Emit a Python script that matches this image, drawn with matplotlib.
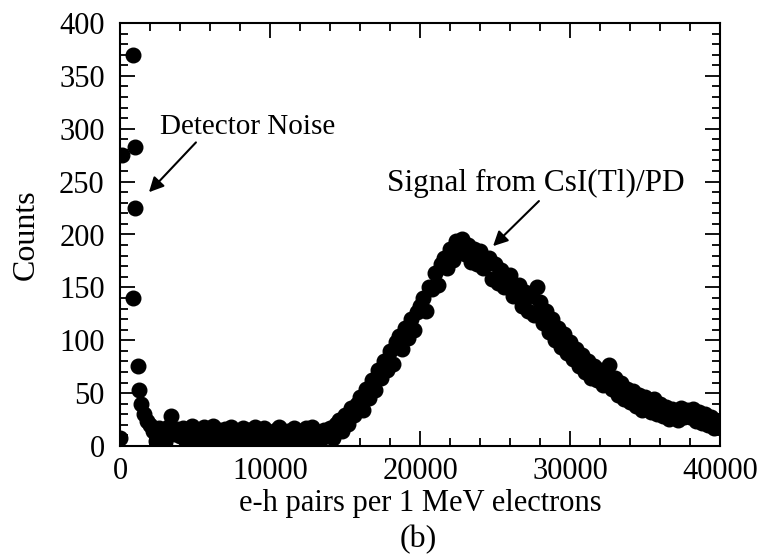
#spectrum e-h pairs, CsI(Tl)/PD
import numpy as np
import matplotlib.pyplot as plt

plt.rcParams['font.family'] = ['Liberation Serif', 'DejaVu Serif']

# detector noise points (low end)
x_noise = [0, 130, 870, 1000, 1000, 870, 1200, 1270]
y_noise = [8, 275, 370, 283, 225, 140, 76, 53]

# signal points, every 200 e-h pairs from 1400 up to 40000
x_sig = list(range(1400, 40001, 200))
y_sig = [40, 30, 24,
         20, 14, 5, 17, 8, 4, 18, 28, 11, 16,
         9, 17, 6, 14, 19, 7, 15, 11, 18, 5,
         14, 19, 8, 15, 6, 16, 12, 18, 7, 14,
         11, 17, 6, 15, 10, 18, 5, 14, 17, 8,
         13, 6, 15, 18, 9, 4, 14, 10, 17, 7,
         3, 12, 17, 8, 18, 6, 13, 7, 15, 11,
         17, 8, 21, 25, 14, 29, 21, 36, 29, 40,
         46, 34, 54, 45, 62, 53, 72, 64, 80, 72,
         90, 78, 98, 104, 92, 112, 102, 120, 110, 127,
         132, 140, 128, 150, 148, 164, 152, 172, 178, 168,
         186, 176, 194, 185, 196, 182, 190, 174, 186, 172,
         184, 168, 172, 178, 158, 172, 154, 166, 150, 158,
         162, 142, 146, 152, 132, 146, 128, 142, 124, 150,
         136, 116, 128, 108, 120, 100, 112, 94, 106, 88,
         98, 82, 92, 76, 86, 70, 80, 64, 76, 62,
         72, 58, 68, 77, 54, 64, 48, 60, 44, 54,
         42, 52, 38, 48, 34, 46, 36, 32, 44, 30,
         40, 28, 37, 26, 35, 30, 25, 36, 27, 34,
         27, 35, 24, 32, 22, 30, 20, 27, 17, 24,
         18]

x_all = np.array(x_noise + x_sig)
y_all = np.array(y_noise + y_sig)

fig = plt.figure(figsize=(7.66, 5.56), dpi=100)
ax = fig.add_axes([120/766, 110/556, 600/766, 423/556])
ax.plot(x_all, y_all, 'o', color='k', ms=10.5, mec='k')

ax.set_xlim(0, 40000)
ax.set_ylim(0, 400)
ax.set_xticks([0, 10000, 20000, 30000, 40000])
ax.set_xticks(np.arange(0, 40001, 2000), minor=True)
ax.set_yticks(np.arange(0, 401, 50))
ax.set_yticks(np.arange(0, 401, 10), minor=True)
ax.tick_params(which='both', direction='in', top=True, right=True, width=1.3, labelsize=22)
ax.tick_params(which='major', length=11)
ax.tick_params(which='minor', length=6)
ax.tick_params(axis='y', pad=11)
ax.tick_params(axis='x', pad=8)
for s in ax.spines.values():
    s.set_linewidth(1.5)

ax.set_xlabel('e-h pairs per 1 MeV electrons', fontsize=22, labelpad=2)
ax.set_ylabel('Counts', fontsize=23, labelpad=13)
fig.text(418/766, 1 - 540/556, '(b)', fontsize=23, ha='center', va='center')

#annotaties
ax.annotate('Detector Noise', xy=(1930, 240), xytext=(2667, 302),
            fontsize=21, va='center', ha='left',
            arrowprops=dict(arrowstyle='-|>', color='k', lw=1.5, mutation_scale=22,
                            shrinkA=0, shrinkB=0, relpos=(0.22, 0)))
ax.annotate('Signal from CsI(Tl)/PD', xy=(24870, 189), xytext=(17800, 248),
            fontsize=22.5, va='center', ha='left',
            arrowprops=dict(arrowstyle='-|>', color='k', lw=1.5, mutation_scale=22,
                            shrinkA=0, shrinkB=0, relpos=(0.52, 0)))

plt.savefig('out.png', dpi=100)
